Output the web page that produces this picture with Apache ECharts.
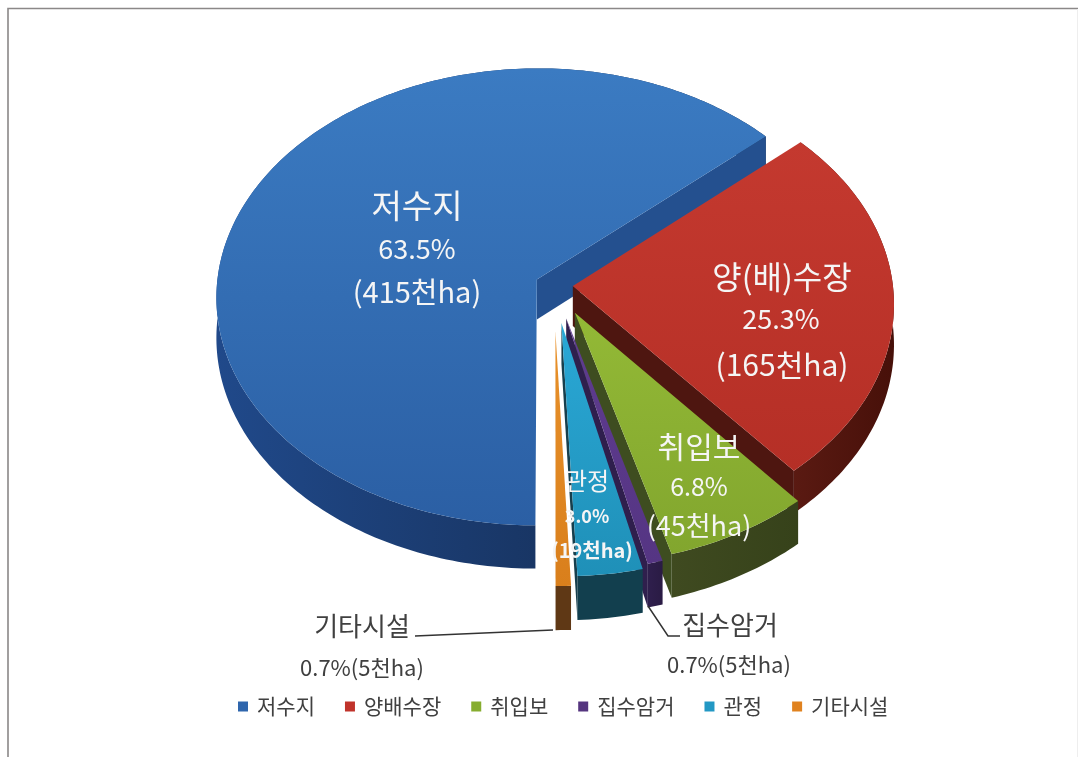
<!DOCTYPE html>
<html>
<head>
<meta charset="utf-8">
<title>수리시설 면적</title>
<script src="https://cdn.jsdelivr.net/npm/echarts@6/dist/echarts.min.js"></script>
<style>
	html, body { margin: 0; padding: 0; background: #fff; }
	#pie { width: 1078px; height: 757px; }
</style>
</head>
<body>
<div id="pie"></div>
<script>
// 항목별 비율(%)
var names = ['저수지', '양배수장', '취입보', '집수암거', '관정', '기타시설'];
var shares = [63.5, 25.3, 6.8, 0.7, 3.0, 0.7];
var areas = [415, 165, 45, 5, 19, 5];

var topColors = [['#3b7bc2', '#2b5fa4'], ['#c4392f', '#b52f26'], ['#93b936', '#82a62e'], ['#5f3c90', '#553583'], ['#2aa8d6', '#1f90b8'], ['#e8912a', '#d97f1c']];
var wallColors = [['#20498a', '#13284a'], ['#5a1a12', '#471009'], ['#3f4a20', '#36421a'], ['#2f1f4d', '#2a1b44'], ['#123f4e', '#123f4e'], ['#5f3815', '#5f3815']];
var edgeColors = ['#24508f', '#4e1610', '#3e4d20', '#2f1f4d', '#173f4d', '#5f3815'];
var legendColors = ['#2f66ad', '#c0332b', '#86ad2f', '#55357f', '#2398c4', '#e0821f'];

// 조각 분리 정도
var explode = [0.059, 0.059, 0.137, 0.15, 0.166, 0.2];

// 원근 투영
var cx = 554, cy = 285, rx = 320, ry = 228, persp = 0.0762, depth = 40;

function project(u, v) {
	var w = 1 - persp * v;
	return { x: cx + rx * u / w, y: cy + ry * v / w, d: depth / w };
}

function startAngle(idx) {
	var sum = 0, before = 0;
	for (var i = 0; i < shares.length; i++) {
		sum += shares[i];
		if (i < idx) before += shares[i];
	}
	return 180 + before / sum * 360;
}

function polar(a, r, ou, ov) {
	var t = a * Math.PI / 180;
	return project(ou + r * Math.sin(t), ov - r * Math.cos(t));
}

function vGrad(c) {
	return new echarts.graphic.LinearGradient(0, 0, 0, 1, [{ offset: 0, color: c[0] }, { offset: 1, color: c[1] }]);
}
function hGrad(c) {
	return new echarts.graphic.LinearGradient(0, 0, 1, 0, [{ offset: 0, color: c[0] }, { offset: 1, color: c[1] }]);
}

function makeRender(idx) {
	return function (params, api) {
		var a0 = startAngle(idx);
		var a1 = a0 + api.value(0) / 100 * 360;
		var mid = (a0 + a1) / 2 * Math.PI / 180;
		var ou = explode[idx] * Math.sin(mid), ov = -explode[idx] * Math.cos(mid);
		var apex = project(ou, ov);
		var arc = [];
		var n = Math.max(2, Math.ceil(a1 - a0));
		for (var i = 0; i <= n; i++) {
			arc.push(polar(a0 + (a1 - a0) * i / n, 1, ou, ov));
		}
		var first = arc[0], last = arc[arc.length - 1];
		var topPts = [[apex.x, apex.y]], wallPts = [], lower = [];
		for (var j = 0; j < arc.length; j++) {
			topPts.push([arc[j].x, arc[j].y]);
			wallPts.push([arc[j].x, arc[j].y]);
			lower.unshift([arc[j].x, arc[j].y + arc[j].d]);
		}
		wallPts = wallPts.concat(lower);
		function edge(p) {
			return {
				type: 'polygon',
				shape: { points: [[apex.x, apex.y], [p.x, p.y], [p.x, p.y + p.d], [apex.x, apex.y + apex.d]] },
				style: { fill: edgeColors[idx] }
			};
		}
		var children = [{ type: 'polygon', shape: { points: wallPts }, style: { fill: hGrad(wallColors[idx]) } }];
		// 앞쪽을 향한 단면만 그린다
		if (Math.sin(a0 * Math.PI / 180) < -0.001) children.push(edge(first));
		if (Math.sin(a1 * Math.PI / 180) > 0.001) children.push(edge(last));
		children.push({ type: 'polygon', shape: { points: topPts }, style: { fill: vGrad(topColors[idx]) } });
		return { type: 'group', children: children };
	};
}

var series = [];
for (var i = 0; i < names.length; i++) {
	series.push({
		type: 'custom',
		name: names[i],
		coordinateSystem: 'none',
		silent: true,
		itemStyle: { color: legendColors[i] },
		renderItem: makeRender(i),
		data: [[shares[i]]]
	});
}

// 글자 하나 그리기
function label(text, x, y, size, color, weight) {
	return {
		type: 'text',
		z: 100,
		style: {
			text: text,
			x: x,
			y: y,
			fill: color,
			align: 'center',
			verticalAlign: 'middle',
			fontSize: size,
			fontWeight: weight || 'normal',
			fontFamily: '"Noto Sans CJK KR"'
		}
	};
}
function line(points, color, width) {
	return {
		type: 'polyline',
		z: 90,
		shape: { points: points },
		style: { stroke: color, lineWidth: width, fill: null }
	};
}
function areaText(i) {
	return areas[i] + '천ha';
}

var white = '#f5f5f5', dark = '#404040';

var option = {
	animation: false,
	backgroundColor: '#ffffff',
	legend: {
		left: 238,
		top: 696,
		icon: 'rect',
		itemWidth: 10,
		itemHeight: 10,
		itemGap: 30,
		selectedMode: false,
		padding: 0,
		data: names,
		textStyle: { fontSize: 21, color: dark, fontFamily: '"Noto Sans CJK KR"', padding: [0, 0, 0, 4] }
	},
	series: series,
	graphic: [
		line([[8, 757], [8, 8.5], [1078, 8.5]], '#8b8888', 1.6),
		line([[1077.5, 9], [1077.5, 757]], '#eeeeee', 1),
		label(names[0], 417, 205, 33, white),
		label(shares[0].toFixed(1) + '%', 417, 249, 27, white),
		label('(' + areaText(0) + ')', 417, 292, 29, white),
		label('양(배)수장', 782, 277, 32, white),
		label(shares[1].toFixed(1) + '%', 781, 319, 27, white),
		label('(' + areaText(1) + ')', 782, 365, 30, white),
		label(names[2], 699, 447, 30, white),
		label(shares[2].toFixed(1) + '%', 699, 486, 25, white),
		label('(' + areaText(2) + ')', 699, 526, 27, white),
		label(names[4], 587, 481, 24, white),
		label(shares[4].toFixed(1) + '%', 587, 516, 18, white, 'bold'),
		label('(' + areaText(4) + ')', 592, 550, 20, white, 'bold'),
		label(names[5], 362, 626, 26, dark),
		label(shares[5].toFixed(1) + '%(' + areaText(5) + ')', 362, 668, 22, dark),
		label(names[3], 730, 625, 26, dark),
		label(shares[3].toFixed(1) + '%(' + areaText(3) + ')', 729, 665, 22, dark),
		line([[415, 636], [553, 630]], '#333333', 1.5),
		line([[648, 606], [668, 636], [680, 636]], '#333333', 1.5)
	]
};

var myChart = echarts.init(document.getElementById('pie'));
myChart.setOption(option);
</script>
</body>
</html>
